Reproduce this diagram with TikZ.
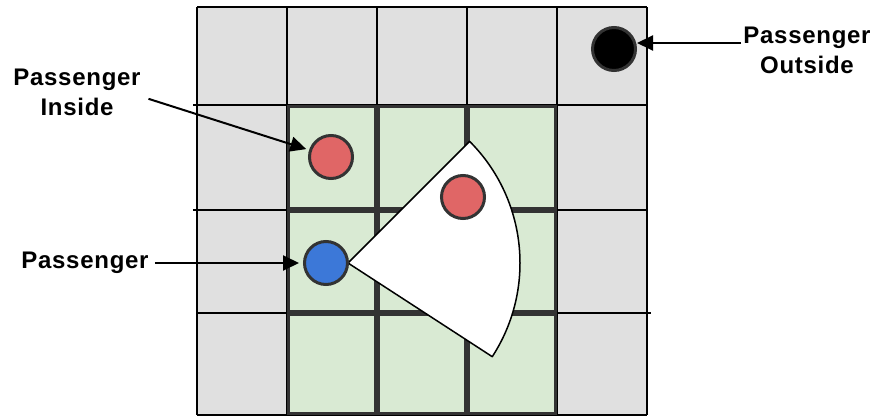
\documentclass[tikz,border=0pt]{standalone}
\usepackage{fontspec}
\usepackage{xcolor}
\usepackage{tikz}
\usetikzlibrary{arrows.meta,calc,positioning}

\newfontfamily\labelfont[LetterSpace=3.0]{Liberation Sans}

\definecolor{cellgray}{HTML}{E0E0E0}
\definecolor{roomgreen}{HTML}{D9EAD3}
\definecolor{darkline}{HTML}{333333}
\definecolor{seatred}{HTML}{E06666}
\definecolor{seatblue}{HTML}{3C78D8}

\begin{document}
\begin{tikzpicture}[
    x=1pt,y=1pt,
    gridline/.style={draw=black,line width=1.5pt},
    room/.style={
        fill=roomgreen,
        draw=darkline,
        line width=3pt
    },
    passenger/.style={
        circle,
        draw=darkline,
        line width=3pt,
        minimum size=43pt,
        inner sep=0pt
    },
    view/.style={fill=white,draw=black,line width=1.5pt,line join=round},
    label/.style={font={\labelfont\bfseries\fontsize{24}{30}\selectfont},align=center,inner sep=2pt},
    arrow/.style={-{Triangle[length=16pt,width=15pt]},line width=2pt}
]
\useasboundingbox (0,0) rectangle (878,415);

% Outer grid
\fill[cellgray] (197,0) rectangle (647,408);
\foreach \x in {197,287,377,467,557,647}
    \draw[gridline] (\x,0) -- (\x,408);
\foreach \y/\xa/\xb in {408/197/647, 310/193/647, 205/193/647, 102/197/651, 0/197/647}
    \draw[gridline] (\xa,\y) -- (\xb,\y);

% Inner (green) cells
\foreach \x in {287,377,467}
    \foreach \ya/\yb in {205/310, 102/205, 0/102}
        \draw[room] (\x+1.5,\ya+1.5) rectangle (\x+88.5,\yb-1.5);

% Field of view
\coordinate (apex) at (348,152);
\draw[view] (apex) -- ++(-33:172) arc[start angle=-33,end angle=45,radius=172] -- cycle;

% Passengers
\node[passenger, fill=black] (outside) at (614,366) {};
\node[passenger, fill=seatred] (inside) at (331,258) {};
\node[passenger, fill=seatred] (seen) at (463,218) {};
\node[passenger, fill=seatblue] (self) at (326,152) {};

% Labels
\node[label] (outlbl) at (807,365) {Passenger\\Outside};
\node[label] (inlbl) at (77,323) {Passenger\\Inside};
\node[label] (selflbl) at (85,152) {Passenger};

% Pointers
\draw[arrow] ([yshift=7pt]outlbl.west) -- ([yshift=6pt]outside.east);
\draw[arrow, shorten <=6pt, shorten >=3pt] ([yshift=-5pt]inlbl.east) -- (inside);
\draw[arrow, shorten <=4pt, shorten >=4pt] (selflbl.east) -- (self.west);

\end{tikzpicture}
\end{document}
